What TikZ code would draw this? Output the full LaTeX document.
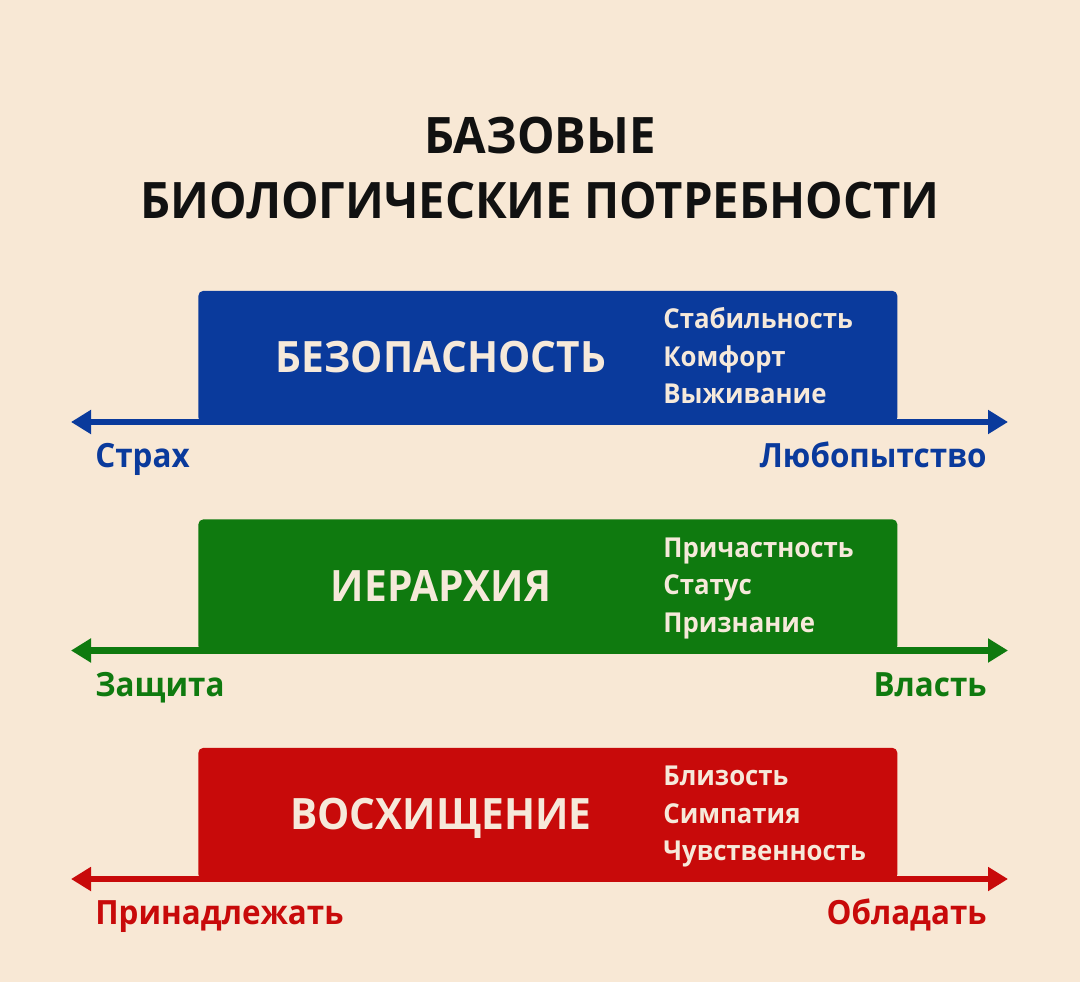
\documentclass[tikz,border=0pt]{standalone}
\usepackage{fontspec}
\setmainfont{Open Sans}[FakeStretch=0.94]
\usepackage{xcolor}
\usetikzlibrary{arrows.meta,positioning,calc}
\definecolor{paper}{HTML}{F8E8D5}
\definecolor{safeblue}{HTML}{0A3A9C}
\definecolor{rankgreen}{HTML}{0F7A0F}
\definecolor{lovered}{HTML}{C80A0A}
\definecolor{boxtext}{HTML}{F6E9DA}
\definecolor{ink}{HTML}{111111}
\tikzset{
    needbox/.style={rounded corners=1mm,minimum width=13.98cm,minimum height=2.63cm,
      inner sep=0pt,anchor=north west},
    needname/.style={text=boxtext,inner sep=0pt,anchor=base,
      font=\bfseries\fontsize{24.6}{28}\selectfont},
    needlist/.style={text=boxtext,inner sep=0pt,anchor=base west,align=left,
      font=\bfseries\fontsize{15.6}{21.3}\selectfont},
    axisarrow/.style={{Triangle[length=4mm,width=4.6mm]}-{Triangle[length=4mm,width=4.6mm]},
      line width=3.8pt},
    endlabel/.style={inner sep=0pt,font=\bfseries\fontsize{19}{22}\selectfont}
}
\begin{document}
\begin{tikzpicture}
  \fill[paper] (0,0) rectangle (21.6,-19.64);
  \useasboundingbox (0,0) rectangle (21.6,-19.64);
  % anchor=base sits on the last line
  \node[text=ink,align=center,anchor=base,inner sep=0pt,
    font=\bfseries\fontsize{28.6}{37.4}\selectfont] (title) at (10.8,-4.38)
    {БАЗОВЫЕ\\БИОЛОГИЧЕСКИЕ ПОТРЕБНОСТИ};
  \foreach \i/\col/\need/\pa/\pb/\pc/\lo/\hi in {
    0/safeblue/БЕЗОПАСНОСТЬ/Стабильность/Комфорт/Выживание/Страх/Любопытство,
    1/rankgreen/ИЕРАРХИЯ/Причастность/Статус/Признание/Защита/Власть,
    2/lovered/ВОСХИЩЕНИЕ/Близость/Симпатия/Чувственность/Принадлежать/Обладать} {
    \node[needbox,fill=\col] (box\i) at (3.96,-5.81-4.57*\i) {};
    \node[needname] (name\i) at ($(box\i.north west)+(4.86,-1.64)$) {\need};
    \node[needlist] (list\i) at ($(box\i.north west)+(9.30,-2.26)$) {\pa\\\pb\\\pc};
    \coordinate (lo\i) at (1.42,-8.44-4.57*\i);
    \coordinate (hi\i) at (20.16,-8.44-4.57*\i);
    \draw[axisarrow,\col] (lo\i) -- (hi\i);
    \node[endlabel,text=\col,anchor=base west] (lolab\i) at ($(lo\i)+(0.48,-0.91)$) {\lo};
    \node[endlabel,text=\col,anchor=base east] (hilab\i) at ($(hi\i)+(-0.42,-0.91)$) {\hi};
  }
\end{tikzpicture}
\end{document}
